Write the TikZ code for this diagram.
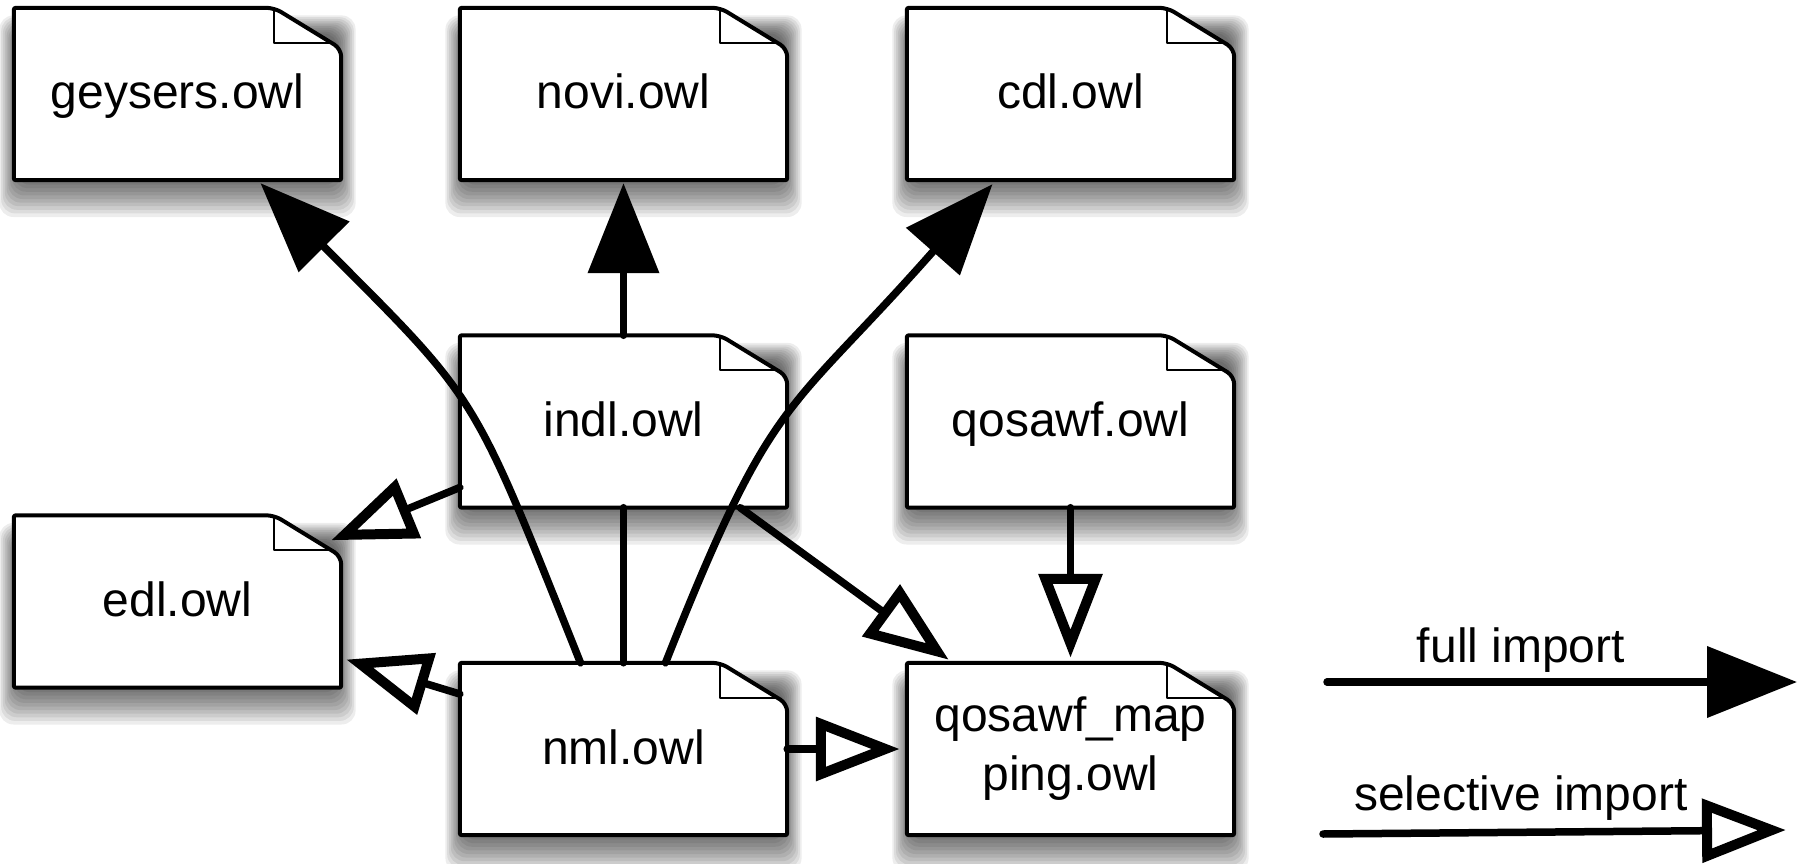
\documentclass[tikz,border=0pt]{standalone}
\usepackage{fontspec}
\setmainfont{Liberation Sans}
\usetikzlibrary{arrows.meta,calc}
\pgfdeclarelayer{background}
\pgfsetlayers{background,main}
\tikzset{
  docbase/.style={minimum width=327pt, minimum height=172pt, inner sep=0pt,
    font=\fontsize{48}{59}\selectfont},
  docnode/.style={docbase, text height=40pt, text depth=10pt},
  docline/.style={draw=black, line width=4pt, fill=white, line join=round},
  shadowlayer/.style={fill=black, opacity=0.07, rounded corners=14pt},
  foldline/.style={draw=black, line width=2pt, line join=round},
  conn/.style={draw=black, line width=7.5pt, line cap=round},
  full/.style={-{Triangle[length=90pt,width=70pt]}},
  sel/.style={-{Triangle[open,length=84pt,width=62pt,fill=white,line width=10pt]}},
  legendtext/.style={font=\fontsize{48}{59}\selectfont, inner sep=0pt},
}
\newcommand\docshadow[1]{%
  \foreach \e in {-6,-3,...,24} {%
    \path[shadowlayer] ($(#1.north west)+(-0.6*\e,22-0.6*\e)$) rectangle ($(#1.south east)+(0.6*\e,8+1.2*\e)$);
  }%
}
\newcommand\docshape[1]{%
  \draw[docline]
    [rounded corners=2pt] (#1.south west) -- (#1.north west)
    [rounded corners=8pt] -- ($(#1.north east)+(-67,0)$) -- ($(#1.north east)+(0,41)$)
    [rounded corners=2pt] -- (#1.south east) -- cycle;
  \draw[foldline] ($(#1.north east)+(-67,2)$) -- ($(#1.north east)+(-67,35)$) -- ($(#1.north east)+(-9,35)$);
}
\begin{document}
\begin{tikzpicture}[x=1pt,y=-1pt]
  \useasboundingbox (0,0) rectangle (1799,864);

  \node[docnode] (geysers) at (177.5,94) {geysers.owl};
  \node[docnode] (novi) at (623.5,94) {novi.owl};
  \node[docnode] (cdl) at (1070.5,94) {cdl.owl};
  \node[docnode] (indl) at (623.5,421.5) {indl.owl};
  \node[docnode] (qosawf) at (1070.5,421.5) {qosawf.owl};
  \node[docnode] (edl) at (177.5,601.5) {edl.owl};
  \node[docnode] (nml) at (623.5,749) {nml.owl};
  \node[docbase, align=center] (mapping) at (1070.5,749) {qosawf\_map\\ping.owl};

  \begin{pgfonlayer}{background}
    \fill[white] (0,0) rectangle (1799,864);
    \foreach \n in {geysers,novi,cdl,indl,qosawf,edl,nml,mapping} {\docshadow{\n}}
    \foreach \n in {geysers,novi,cdl,indl,qosawf,edl,nml,mapping} {\docshape{\n}}
  \end{pgfonlayer}

  % connectors
  \draw[conn, full] ([xshift=-43pt]nml.north) .. controls (471,389) and (481,404) .. ([xshift=83pt,yshift=-3pt]geysers.south);
  \draw[conn, full] ([xshift=42pt]nml.north) .. controls (774,389) and (785,419) .. ([xshift=-78pt,yshift=-4pt]cdl.south);
  \draw[conn, full] (indl.north) -- ([yshift=-3pt]novi.south);
  \draw[conn] (nml.north) -- (indl.south);
  \draw[conn, sel] ([yshift=-66pt]indl.west) -- ([xshift=-10pt,yshift=-25pt]edl.north east);
  \draw[conn, sel] ([yshift=55pt]nml.west) -- ([xshift=5pt,yshift=-58pt]edl.east);
  \draw[conn, sel] ([xshift=-47pt]indl.south east) -- ([xshift=42pt,yshift=3pt]mapping.north west);
  \draw[conn, sel] (qosawf.south) -- ([yshift=5pt]mapping.north);
  \draw[conn, sel] (nml.east) -- ([xshift=-7pt]mapping.west);

  % legend
  \node[legendtext, anchor=base] (flabel) at (1521,662) {full import};
  \node[legendtext, anchor=base] (slabel) at (1521,810) {selective import};
  \coordinate (f1) at (1327,682);
  \coordinate (f2) at (1797,682);
  \coordinate (s1) at (1323,834);
  \coordinate (s2) at (1786,830);
  \draw[conn, full] (f1) -- (f2);
  \draw[conn, sel] (s1) -- (s2);
\end{tikzpicture}
\end{document}
